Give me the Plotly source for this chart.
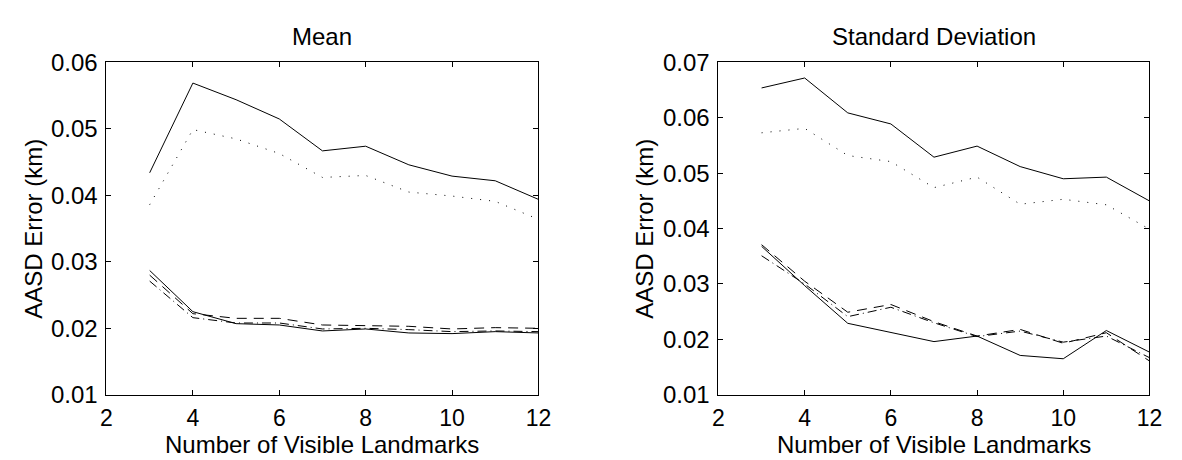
import plotly.graph_objects as go

x_vals = [3, 4, 5, 6, 7, 8, 9, 10, 11, 12]

# Mean panel
mean_solid_upper = [0.0434, 0.0569, 0.0544, 0.0515, 0.0467, 0.0474, 0.0446, 0.0429, 0.0422, 0.0394]
mean_dotted = [0.0386, 0.0499, 0.0485, 0.0463, 0.0427, 0.0430, 0.0405, 0.0399, 0.0391, 0.0364]
mean_solid_lower = [0.0287, 0.0225, 0.0207, 0.0205, 0.0196, 0.0199, 0.0193, 0.0192, 0.0195, 0.0193]
mean_dashed = [0.0280, 0.0222, 0.0215, 0.0215, 0.0205, 0.0204, 0.0203, 0.0199, 0.0201, 0.0200]
mean_dashdot = [0.0271, 0.0216, 0.0208, 0.0208, 0.0199, 0.0200, 0.0198, 0.0195, 0.0196, 0.0195]

# Standard deviation panel
std_solid_upper = [0.0654, 0.0672, 0.0609, 0.0589, 0.0529, 0.0549, 0.0512, 0.0490, 0.0493, 0.0450]
std_dotted = [0.0573, 0.0581, 0.0532, 0.0521, 0.0474, 0.0493, 0.0444, 0.0453, 0.0443, 0.0399]
std_solid_lower = [0.0368, 0.0297, 0.0229, 0.0212, 0.0196, 0.0206, 0.0171, 0.0165, 0.0216, 0.0177]
std_dashed = [0.0371, 0.0305, 0.0249, 0.0263, 0.0232, 0.0206, 0.0218, 0.0193, 0.0212, 0.0161]
std_dashdot = [0.0351, 0.0300, 0.0241, 0.0258, 0.0230, 0.0205, 0.0215, 0.0195, 0.0206, 0.0167]

x_ticks = [2, 4, 6, 8, 10, 12]
mean_yticks = [0.01, 0.02, 0.03, 0.04, 0.05, 0.06]
std_yticks = [0.01, 0.02, 0.03, 0.04, 0.05, 0.06, 0.07]

panel_titles = ["Mean", "Standard Deviation"]
x_title = "Number of Visible Landmarks"
y_title = "AASD Error (km)"

FONT = "Liberation Sans, Arial, Helvetica, sans-serif"
W, H = 1182, 460
TXT = 24

fig = go.Figure()

DOT = "1px,8px"
DASH = "10px,7px"
DASHDOT = "9px,4px,1px,4px"

def add_panel(xa, ya, series):
    for ys, dash in series:
        fig.add_trace(go.Scatter(
            x=x_vals, y=ys, mode="lines", xaxis=xa, yaxis=ya,
            line=dict(color="black", width=1, dash=dash),
            showlegend=False, hoverinfo="skip"))

add_panel("x", "y", [(mean_solid_upper, "solid"), (mean_dotted, DOT),
                      (mean_solid_lower, "solid"), (mean_dashed, DASH),
                      (mean_dashdot, DASHDOT)])
add_panel("x2", "y2", [(std_solid_upper, "solid"), (std_dotted, DOT),
                        (std_solid_lower, "solid"), (std_dashed, DASH),
                        (std_dashdot, DASHDOT)])

ax_common = dict(showgrid=False, zeroline=False, showline=True, linecolor="black",
                 linewidth=1, mirror="ticks", ticks="inside", ticklen=5,
                 tickcolor="black")
xfont = dict(family=FONT, size=23, color="black")
yfont = dict(family=FONT, size=24, color="black")

ytop, ybot = 1 - 43 / H, 1 - 396 / H

fig.update_layout(
    width=W, height=H,
    margin=dict(l=0, r=0, t=0, b=0),
    paper_bgcolor="white", plot_bgcolor="white",
    xaxis=dict(domain=[94 / W, 533 / W], range=[2, 12], tickvals=x_ticks,
               anchor="y", ticklabelstandoff=3, tickfont=xfont, **ax_common),
    yaxis=dict(domain=[ybot, ytop], range=[0.01, 0.06], tickvals=mean_yticks,
               tickformat=".2f", anchor="x", ticklabelstandoff=3, tickfont=yfont, **ax_common),
    xaxis2=dict(domain=[716 / W, 1154 / W], range=[2, 12], tickvals=x_ticks,
                anchor="y2", ticklabelstandoff=3, tickfont=xfont, **ax_common),
    yaxis2=dict(domain=[ybot, ytop], range=[0.01, 0.07], tickvals=std_yticks,
                tickformat=".2f", anchor="x2", ticklabelstandoff=3, tickfont=yfont, **ax_common),
)

ann = []
for cx, t in zip([313.5, 935], panel_titles):
    ann.append(dict(text=t, x=cx / W, y=1 - 15 / H, xref="paper", yref="paper",
                    showarrow=False, xanchor="center", yanchor="middle",
                    font=dict(family=FONT, size=TXT, color="black")))
for cx in [313.5, 935]:
    ann.append(dict(text=x_title, x=cx / W, y=1 - 449 / H, xref="paper", yref="paper",
                    showarrow=False, xanchor="center", yanchor="middle",
                    font=dict(family=FONT, size=TXT, color="black")))
for cx in [19, 640]:
    ann.append(dict(text=y_title, x=cx / W, y=1 - 220 / H, xref="paper", yref="paper",
                    showarrow=False, xanchor="center", yanchor="middle", textangle=-90,
                    font=dict(family=FONT, size=TXT, color="black")))
fig.update_layout(annotations=ann)

fig.write_html("out.html")
